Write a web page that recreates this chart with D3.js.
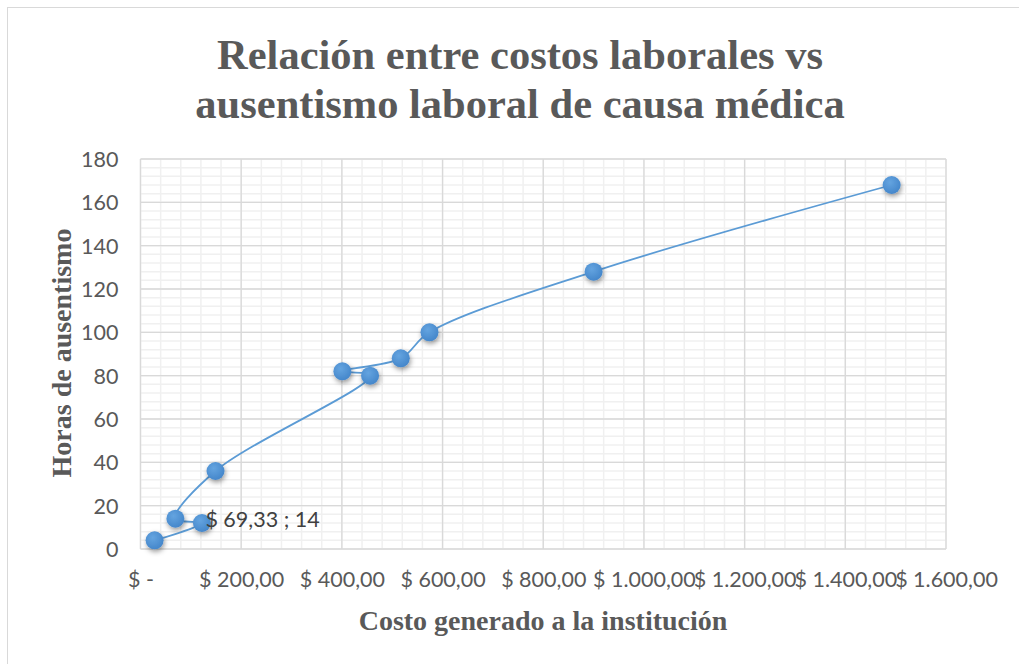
<!DOCTYPE html>
<html><head><meta charset="utf-8">
<script src="https://cdn.jsdelivr.net/npm/d3@7"></script>
<style>body{margin:0;background:#fff;}svg{display:block;}</style>
</head><body>
<svg id="chart" width="1019" height="664"></svg>
<script>
const titleLines = ["Relación entre costos laborales vs", "ausentismo laboral de causa médica"];
const xTitle = "Costo generado a la institución";
const yTitle = "Horas de ausentismo";
const costs = [28, 122, 69.33, 149, 456, 401, 517, 574, 900, 1492];
const hours = [4, 12, 14, 36, 80, 82, 88, 100, 128, 168];
const xTickValues = [0, 200, 400, 600, 800, 1000, 1200, 1400, 1600];
const xTickLabels = ["$ -", "$ 200,00", "$ 400,00", "$ 600,00", "$ 800,00", "$ 1.000,00", "$ 1.200,00", "$ 1.400,00", "$ 1.600,00"];
const yTickValues = [0, 20, 40, 60, 80, 100, 120, 140, 160, 180];
const labelIndex = 2;
const labelText = "$ 69,33 ; 14";

const svg = d3.select("#chart");
const W = 1019, H = 664;
const plot = {left: 140.5, right: 946, top: 159, bottom: 549};
const x = d3.scaleLinear().domain([0, 1600]).range([plot.left, plot.right]);
const y = d3.scaleLinear().domain([0, 180]).range([plot.bottom, plot.top]);
const grey = "#595959";
const tickFont = "Lato, 'Open Sans', sans-serif";
const tickSize = 21.5;
const serif = "'Liberation Serif', 'Times New Roman', serif";

// chart border
svg.append("rect").attr("x", 7.5).attr("y", 7.5).attr("width", W + 20).attr("height", H + 20)
  .attr("fill", "#fff").attr("stroke", "#d9d9d9").attr("stroke-width", 1);

const defs = svg.append("defs");
const grad = defs.append("radialGradient").attr("id", "mg").attr("cx", "40%").attr("cy", "35%").attr("r", "65%");
grad.append("stop").attr("offset", "0%").attr("stop-color", "#64a4e0");
grad.append("stop").attr("offset", "100%").attr("stop-color", "#4587cb");
const f = defs.append("filter").attr("id", "sh").attr("x", "-60%").attr("y", "-60%").attr("width", "220%").attr("height", "220%");
f.append("feDropShadow").attr("dx", 1).attr("dy", 2.5).attr("stdDeviation", 2.5).attr("flood-color", "#000").attr("flood-opacity", 0.4);

// minor grid
const g = svg.append("g");
const xMinor = d3.range(0, 1600 + 1, 40);
const yMinor = d3.range(0, 180 + 0.01, 4);
g.selectAll(".xm").data(xMinor).join("line")
  .attr("x1", d => x(d)).attr("x2", d => x(d)).attr("y1", plot.top).attr("y2", plot.bottom)
  .attr("stroke", "#f0f0f0").attr("stroke-width", 1.5);
g.selectAll(".ym").data(yMinor).join("line")
  .attr("y1", d => y(d)).attr("y2", d => y(d)).attr("x1", plot.left).attr("x2", plot.right)
  .attr("stroke", "#f0f0f0").attr("stroke-width", 1.5);
// major grid
g.selectAll(".xM").data(xTickValues).join("line")
  .attr("x1", d => x(d)).attr("x2", d => x(d)).attr("y1", plot.top).attr("y2", plot.bottom)
  .attr("stroke", "#d9d9d9").attr("stroke-width", 1.3);
g.selectAll(".yM").data(yTickValues).join("line")
  .attr("y1", d => y(d)).attr("y2", d => y(d)).attr("x1", plot.left).attr("x2", plot.right)
  .attr("stroke", "#d9d9d9").attr("stroke-width", 1.3);

// axes (labels only)
const xAxis = d3.axisBottom(x).tickValues(xTickValues).tickSize(0).tickPadding(0)
  .tickFormat((d, i) => xTickLabels[i]);
const xa = svg.append("g").attr("transform", `translate(0,${plot.bottom})`).call(xAxis);
xa.select(".domain").remove();
xa.selectAll("text").attr("y", 0).attr("dy", 38).attr("font-family", tickFont).attr("font-size", tickSize).attr("fill", grey);

const yAxis = d3.axisLeft(y).tickValues(yTickValues).tickSize(0).tickPadding(0);
const ya = svg.append("g").attr("transform", `translate(${plot.left - 22},0)`).call(yAxis);
ya.select(".domain").remove();
ya.selectAll("text").attr("dy", "0.35em").attr("font-family", tickFont).attr("font-size", tickSize).attr("fill", grey);

// line
const pts = costs.map((c, i) => [c, hours[i]]);
const line = d3.line().x(d => x(d[0])).y(d => y(d[1])).curve(d3.curveCatmullRom.alpha(0.5));
svg.append("path").datum(pts).attr("d", line).attr("fill", "none")
  .attr("stroke", "#5b9bd5").attr("stroke-width", 1.8);

// markers
svg.append("g").selectAll("circle").data(pts).join("circle")
  .attr("cx", d => x(d[0])).attr("cy", d => y(d[1])).attr("r", 9)
  .attr("fill", "url(#mg)").attr("filter", "url(#sh)");

// data label
svg.append("text").attr("x", x(costs[labelIndex]) + 30).attr("y", y(hours[labelIndex]) + 8)
  .attr("font-family", tickFont).attr("font-size", tickSize).attr("fill", "#404040").text(labelText);

// title
svg.append("text").attr("x", 520).attr("y", 69).attr("text-anchor", "middle")
  .attr("font-family", serif).attr("font-weight", "bold").attr("font-size", 42.5).attr("fill", grey)
  .selectAll("tspan").data(titleLines).join("tspan")
  .attr("x", 520).attr("dy", (d, i) => i === 0 ? 0 : 49).text(d => d);

// axis titles
svg.append("text").attr("x", 543).attr("y", 630).attr("text-anchor", "middle")
  .attr("font-family", serif).attr("font-weight", "bold").attr("font-size", 28).attr("fill", grey).text(xTitle);
svg.append("text").attr("transform", `translate(71,353) rotate(-90)`)
  .attr("text-anchor", "middle")
  .attr("font-family", serif).attr("font-weight", "bold").attr("font-size", 28).attr("fill", grey).text(yTitle);
</script>
</body></html>
